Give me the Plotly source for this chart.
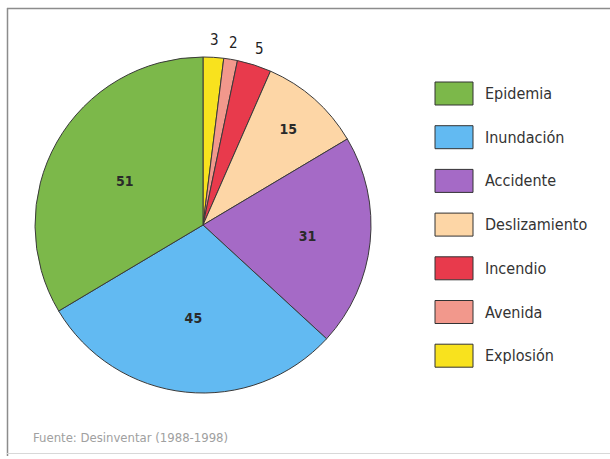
import math
import plotly.graph_objects as go

labels = ["Epidemia", "Inundación", "Accidente", "Deslizamiento", "Incendio", "Avenida", "Explosión"]
values = [51, 45, 31, 15, 5, 2, 3]
colors = ["#7cb84a", "#62baf2", "#a56ac6", "#fdd6a6", "#e83a4c", "#f2988c", "#f8e21e"]
inside_label = [True, True, True, True, False, False, False]
source = "Fuente: Desinventar (1988-1998)"

W, H = 610, 459
FONT = "DejaVu Sans Condensed, DejaVu Sans, sans-serif"

# pie box in pixels
PX0, PX1, PY0, PY1 = 34, 372, 57, 393
CX, CY, R = (PX0 + PX1) / 2, (PY0 + PY1) / 2, (PX1 - PX0) / 2

# drawn clockwise from 12 o'clock, so reverse the order (Explosión first)
lab_r, val_r, col_r, ins_r = labels[::-1], values[::-1], colors[::-1], inside_label[::-1]
fig = go.Figure(go.Pie(
    labels=lab_r, values=val_r, sort=False, direction="clockwise", rotation=0,
    marker=dict(colors=col_r, line=dict(color="#3a3a3a", width=1)),
    texttemplate="%{value}", textposition=["inside" if f else "none" for f in ins_r],
    insidetextfont=dict(family=FONT, size=14, color="#2a2a2a", weight="bold"),
    domain=dict(x=[PX0 / W, PX1 / W], y=[1 - PY1 / H, 1 - PY0 / H]),
    showlegend=False, hoverinfo="label+value",
))

def px_line(x0, y0, x1, y1, color, width):
    return dict(type="line", xref="paper", yref="paper", x0=x0 / W, x1=x1 / W,
                y0=1 - y0 / H, y1=1 - y1 / H, line=dict(color=color, width=width))

shapes = [
    px_line(7, 8.5, 610, 8.5, "#8c8c8c", 1.5),
    px_line(7.5, 8, 7.5, 456, "#8c8c8c", 1.5),
    px_line(7, 453.5, 610, 453.5, "#d8d8d8", 1),
]
annotations = []

# outside value labels for the small slices, placed at each slice's mid-angle
total = sum(val_r)
cum = 0
for v, f in zip(val_r, ins_r):
    mid = (cum + v / 2) / total * 2 * math.pi
    cum += v
    if f:
        continue
    rr = R + 16
    x = CX + rr * math.sin(mid)
    y = CY - rr * math.cos(mid)
    annotations.append(dict(xref="paper", yref="paper", x=x / W, y=1 - y / H, text=str(v),
                            showarrow=False, xanchor="center", yanchor="middle",
                            font=dict(family=FONT, size=15, color="#222")))

y0, step = 93.5, 43.7
for i, (lab, col) in enumerate(zip(labels, colors)):
    yc = y0 + i * step
    shapes.append(dict(type="rect", xref="paper", yref="paper", x0=435 / W, x1=473 / W,
                       y0=1 - (yc + 11.5) / H, y1=1 - (yc - 11.5) / H,
                       fillcolor=col, line=dict(color="#333", width=1)))
    annotations.append(dict(xref="paper", yref="paper", x=483 / W, y=1 - yc / H, text=lab,
                            showarrow=False, xanchor="left", yanchor="middle",
                            font=dict(family=FONT, size=16, color="#333")))
annotations.append(dict(xref="paper", yref="paper", x=31 / W, y=1 - 437 / H, text=source,
                        showarrow=False, xanchor="left", yanchor="middle",
                        font=dict(family=FONT, size=13, color="#a0a0a0")))

fig.update_layout(width=W, height=H, margin=dict(l=0, r=0, t=0, b=0),
                  paper_bgcolor="white", plot_bgcolor="white",
                  shapes=shapes, annotations=annotations)
post = "document.body.style.margin='0';"
fig.write_html("out.html", post_script=post, config={"displayModeBar": False})
